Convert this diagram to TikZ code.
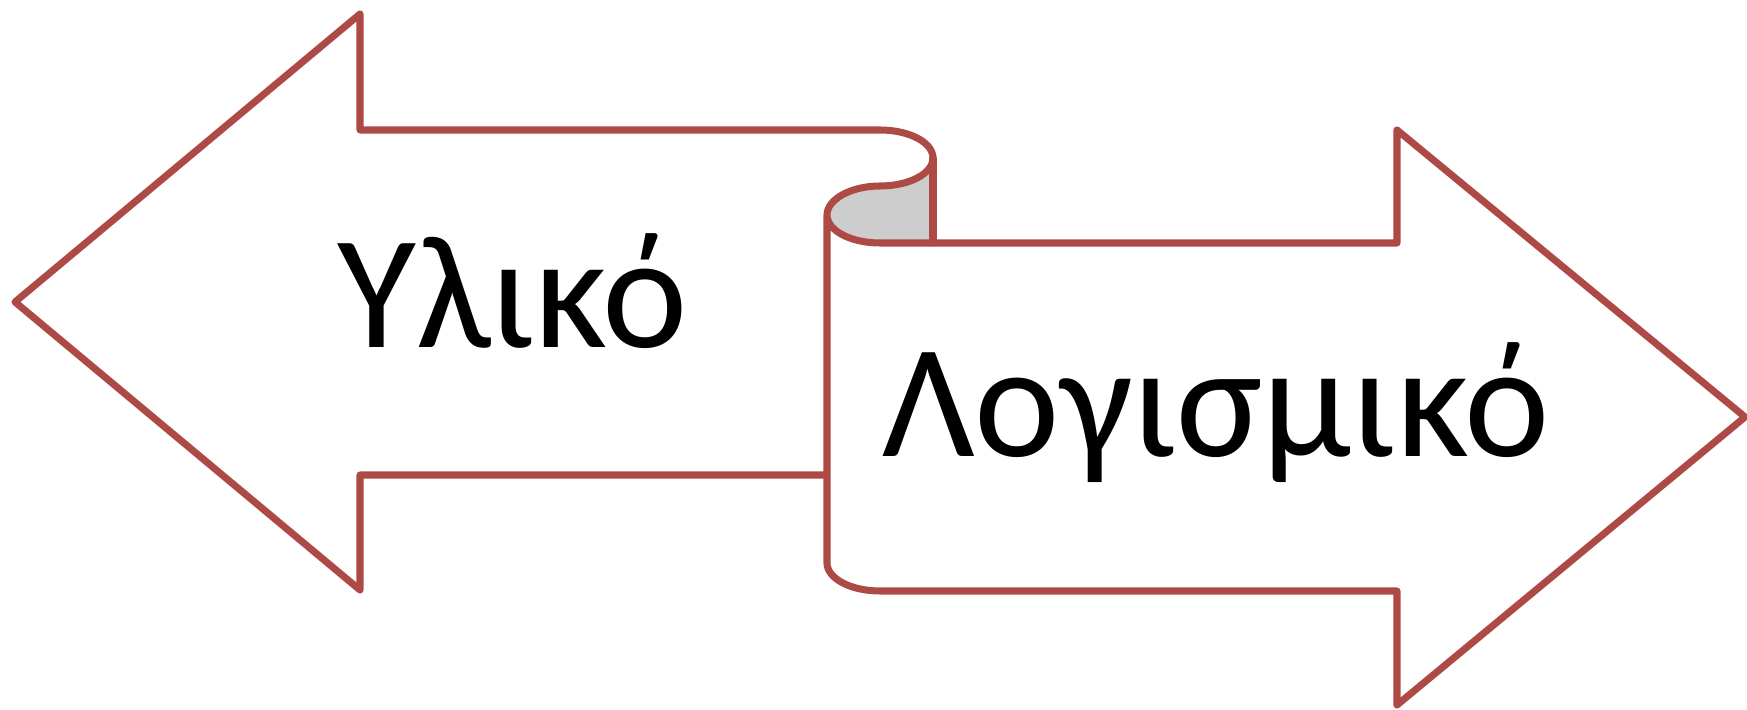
\documentclass[tikz,border=0pt]{standalone}
\usepackage{fontspec}
\setmainfont{Carlito}
\definecolor{edge}{RGB}{174,74,70}
\definecolor{curlfill}{RGB}{205,205,205}
\tikzset{
  outline/.style={draw=edge, line width=2pt, line join=round, line cap=round},
  label/.style={anchor=base, inner sep=0pt, font=\fontsize{46}{52}\selectfont},
}
\begin{document}
\begin{tikzpicture}[x=0.01cm, y=-0.01cm]
\useasboundingbox (0,0) rectangle (1747,710);

% shaded underside of the scroll curl
\fill[curlfill] (933,158) .. controls (933,173.5) and (909.3,186) .. (880,186)
  .. controls (850.7,186) and (827,199.5) .. (827,215)
  .. controls (827,230.5) and (850.7,243) .. (880,243)
  -- (933,243) -- cycle;

% left-pointing arrow, turning into the scroll
\draw[outline] (827,475) -- (360,475) -- (360,590) -- (15,302) -- (360,14) -- (360,130)
  -- (880,130) .. controls (909.3,130) and (933,142.5) .. (933,158)
  .. controls (933,173.5) and (909.3,186) .. (880,186)
  .. controls (850.7,186) and (827,199.5) .. (827,215)
  -- (827,563) .. controls (827,578.5) and (850.7,591) .. (880,591)
  -- (1397,591) -- (1397,705) -- (1745,417) -- (1397,130) -- (1397,243)
  -- (880,243) .. controls (850.7,243) and (827,230.5) .. (827,215);

% edge of the curl
\draw[outline] (933,158) -- (933,243);

% labels
\node[label] (hw) at (513,348) {Υλικό};
\node[label] (sw) at (1216,457) {Λογισμικό};
\end{tikzpicture}
\end{document}
